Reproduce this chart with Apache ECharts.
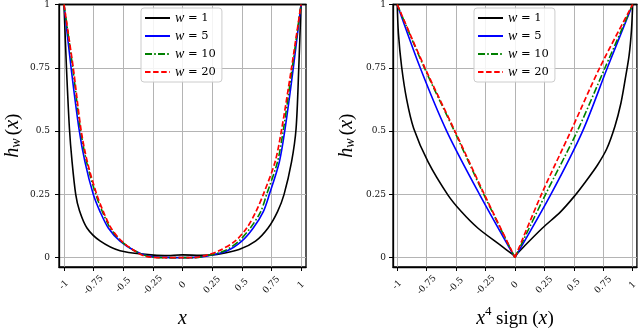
<!DOCTYPE html>
<html>
<head>
<meta charset="utf-8">
<script src="https://cdn.jsdelivr.net/npm/echarts@6.0.0/dist/echarts.min.js"></script>
<style>
html, body { margin: 0; padding: 0; background: #fff; }
#chart { width: 640px; height: 334px; }
</style>
</head>
<body>
<div id="chart"></div>
<script>
// tick values (same for both panels)
const xTicks = [-1, -0.75, -0.5, -0.25, 0, 0.25, 0.5, 0.75, 1];
const yTicks = [0, 0.25, 0.5, 0.75, 1];
const names = ['w = 1', 'w = 5', 'w = 10', 'w = 20'];

// left panel: h_w(x) against x  -- [x, h]
const leftW1 = [[-1, 1], [-0.979, 0.75], [-0.954, 0.51], [-0.932, 0.38], [-0.901, 0.25], [-0.869, 0.185],
  [-0.806, 0.117], [-0.696, 0.066], [-0.527, 0.027], [-0.291, 0.012], [-0.15, 0.008], [0, 0.011],
  [0.15, 0.009], [0.291, 0.013], [0.477, 0.032], [0.616, 0.065], [0.722, 0.117], [0.802, 0.182],
  [0.857, 0.25], [0.92, 0.378], [0.958, 0.508], [0.981, 0.75], [1, 1]];
const leftW5 = [[-1, 1], [-0.94, 0.75], [-0.873, 0.508], [-0.823, 0.378], [-0.753, 0.25], [-0.696, 0.182],
  [-0.626, 0.117], [-0.527, 0.065], [-0.401, 0.026], [-0.289, 0.006], [-0.15, 0.001], [0, 0],
  [0.1, 0.001], [0.204, 0.006], [0.373, 0.026], [0.5, 0.065], [0.597, 0.117], [0.682, 0.182],
  [0.733, 0.25], [0.817, 0.378], [0.865, 0.508], [0.935, 0.75], [1, 1]];
const leftW10 = [[-1, 1], [-0.926, 0.75], [-0.862, 0.508], [-0.809, 0.378], [-0.732, 0.25], [-0.676, 0.182],
  [-0.61, 0.117], [-0.518, 0.065], [-0.4, 0.026], [-0.3, 0.006], [-0.15, 0], [0, 0],
  [0.1, 0], [0.19, 0.006], [0.35, 0.026], [0.475, 0.065], [0.572, 0.117], [0.66, 0.182],
  [0.71, 0.25], [0.801, 0.378], [0.852, 0.508], [0.926, 0.75], [1, 1]];
const leftW20 = [[-1, 1], [-0.922, 0.75], [-0.857, 0.508], [-0.803, 0.378], [-0.724, 0.25], [-0.668, 0.182],
  [-0.603, 0.117], [-0.513, 0.065], [-0.401, 0.026], [-0.316, 0.006], [-0.15, 0], [0, 0],
  [0.08, 0], [0.173, 0.006], [0.302, 0.026], [0.443, 0.065], [0.542, 0.117], [0.62, 0.182],
  [0.682, 0.25], [0.781, 0.378], [0.837, 0.508], [0.92, 0.75], [1, 1]];

// right panel: h_w(x) against x^4 sign(x), negative and positive branches
const rightW1Neg = [[-1, 1], [-0.99, 0.886], [-0.963, 0.755], [-0.92, 0.625], [-0.86, 0.51],
  [-0.738, 0.378], [-0.569, 0.247], [-0.456, 0.182], [-0.316, 0.117], [-0.132, 0.052], [0, 0.006]];
const rightW1Pos = [[0, 0.006], [0.079, 0.045], [0.234, 0.117], [0.389, 0.182], [0.5, 0.24], [0.6, 0.3],
  [0.7, 0.365], [0.78, 0.43], [0.85, 0.52], [0.9, 0.61], [0.935, 0.7], [0.97, 0.8], [0.99, 0.9], [1, 1]];
const rightW5Neg = [[-1, 1], [-0.805, 0.75], [-0.58, 0.5], [-0.301, 0.25], [0, 0]];
const rightW5Pos = [[0, 0], [0.305, 0.25], [0.575, 0.5], [0.785, 0.75], [1, 1]];
const rightW10Neg = [[-1, 1], [-0.77, 0.75], [-0.515, 0.5], [-0.265, 0.25], [0, 0]];
const rightW10Pos = [[0, 0], [0.26, 0.25], [0.53, 0.5], [0.765, 0.75], [1, 1]];
const rightW20Neg = [[-1, 1], [-0.765, 0.75], [-0.51, 0.5], [-0.26, 0.25], [0, 0]];
const rightW20Pos = [[0, 0], [0.225, 0.25], [0.475, 0.5], [0.72, 0.75], [1, 1]];

const styles = [
  {color: '#000000', width: 1.6, type: 'solid'},
  {color: '#0000ff', width: 1.6, type: 'solid'},
  {color: '#008000', width: 1.6, type: [7, 2.2, 1.6, 2.2]},
  {color: '#ff0000', width: 1.7, type: [5.5, 2.6]}
];

const serif = 'DejaVu Serif';
const mathIt = {fontFamily: 'Liberation Serif', fontStyle: 'italic', color: '#000'};

function xAxisOf(gi, lim, name) {
  return {
    type: 'value', gridIndex: gi, min: -lim, max: lim,
    axisLine: {show: true, onZero: false, lineStyle: {color: '#000', width: 1.3}},
    axisTick: {show: true, inside: false, length: 4, lineStyle: {color: '#000', width: 1}, customValues: xTicks},
    axisLabel: {customValues: xTicks, rotate: 45, align: 'center', verticalAlign: 'middle', margin: 18,
      fontFamily: serif, fontSize: 9, color: '#111'},
    splitLine: {show: true, lineStyle: {color: '#b4b4b4', width: 1}},
    name: name, nameLocation: 'middle', nameGap: 38,
    nameTextStyle: {
      fontFamily: 'Liberation Serif', fontSize: 18, color: '#000',
      rich: {
        i: Object.assign({fontSize: 20, lineHeight: 24, verticalAlign: 'bottom'}, mathIt),
        s: {fontFamily: 'Liberation Serif', fontSize: 13, lineHeight: 13, verticalAlign: 'top', color: '#000'},
        r: {fontFamily: 'Liberation Serif', fontSize: 19, lineHeight: 24, verticalAlign: 'bottom', color: '#000'}
      }
    }
  };
}

// plain top spine drawn above the grid lines
function topSpineOf(gi, lim) {
  return {
    type: 'value', gridIndex: gi, position: 'top', min: -lim, max: lim, z: 5,
    axisLine: {show: true, onZero: false, lineStyle: {color: '#000', width: 1.3}},
    axisTick: {show: false}, axisLabel: {show: false}, splitLine: {show: false}
  };
}

function yAxisOf(gi, margin) {
  return {
    type: 'value', gridIndex: gi, min: -0.037, max: 1,
    axisLine: {show: true, onZero: false, lineStyle: {color: '#000', width: 1.3}},
    axisTick: {show: true, inside: false, length: 4, lineStyle: {color: '#000', width: 1}, customValues: yTicks},
    axisLabel: {customValues: yTicks, margin: margin, fontFamily: serif, fontSize: 9, color: '#111'},
    splitLine: {show: true, lineStyle: {color: '#b4b4b4', width: 1}},
    name: '{i|h}{w|w} {r|(}{i|x}{r|)}', nameLocation: 'middle', nameRotate: 90, nameGap: 36,
    nameTextStyle: {
      rich: {
        i: Object.assign({fontSize: 20, lineHeight: 26, verticalAlign: 'bottom'}, mathIt),
        w: Object.assign({fontSize: 14, lineHeight: 6, verticalAlign: 'bottom'}, mathIt),
        r: {fontFamily: 'Liberation Serif', fontSize: 19, lineHeight: 26, verticalAlign: 'bottom', color: '#000'}
      }
    }
  };
}

function legendOf(left) {
  return {
    left: left, top: 8, orient: 'vertical', selectedMode: false,
    data: names, itemWidth: 25, itemHeight: 12, itemGap: 4,
    padding: [3, 6, 3, 3],
    itemStyle: {opacity: 0},
    backgroundColor: 'rgba(255,255,255,0.85)', borderColor: '#cccccc', borderWidth: 1, borderRadius: 3,
    formatter: n => '{i|w} ' + n.slice(2),
    textStyle: {
      fontFamily: serif, fontSize: 11.5, color: '#000', lineHeight: 12,
      rich: {i: Object.assign({fontSize: 14, lineHeight: 12}, mathIt)}
    }
  };
}

const leftData = [leftW1, leftW5, leftW10, leftW20];
const rightData = [
  rightW1Neg.concat([[0, null]], rightW1Pos),
  rightW5Neg.concat([[0, null]], rightW5Pos),
  rightW10Neg.concat([[0, null]], rightW10Pos),
  rightW20Neg.concat([[0, null]], rightW20Pos)
];

const series = [];
[leftData, rightData].forEach((set, gi) => {
  set.forEach((d, k) => {
    series.push({
      type: 'line', name: names[k], xAxisIndex: gi, yAxisIndex: gi,
      data: d, symbol: 'none', smooth: 0.3,
      connectNulls: false, clip: true,
      lineStyle: {color: styles[k].color, width: styles[k].width, type: styles[k].type},
      itemStyle: {color: styles[k].color},
      z: 3 + k
    });
  });
});

const chart = echarts.init(document.getElementById('chart'), null, {renderer: 'canvas'});
chart.setOption({
  animation: false,
  backgroundColor: '#fff',
  grid: [
    {left: 59, top: 4, width: 247, height: 266, show: true, borderColor: '#000', borderWidth: 1.3},
    {left: 393, top: 4, width: 245, height: 266, show: true, borderColor: '#000', borderWidth: 1.3}
  ],
  xAxis: [
    xAxisOf(0, 1.042, '{i|x}'),
    xAxisOf(1, 1.036, '{i|x}{s|4} {r|sign} {r|(}{i|x}{r|)}'),
    topSpineOf(0, 1.042),
    topSpineOf(1, 1.036)
  ],
  yAxis: [yAxisOf(0, 9), yAxisOf(1, 7)],
  legend: [legendOf(141), legendOf(474)],
  series: series
});
</script>
</body>
</html>
